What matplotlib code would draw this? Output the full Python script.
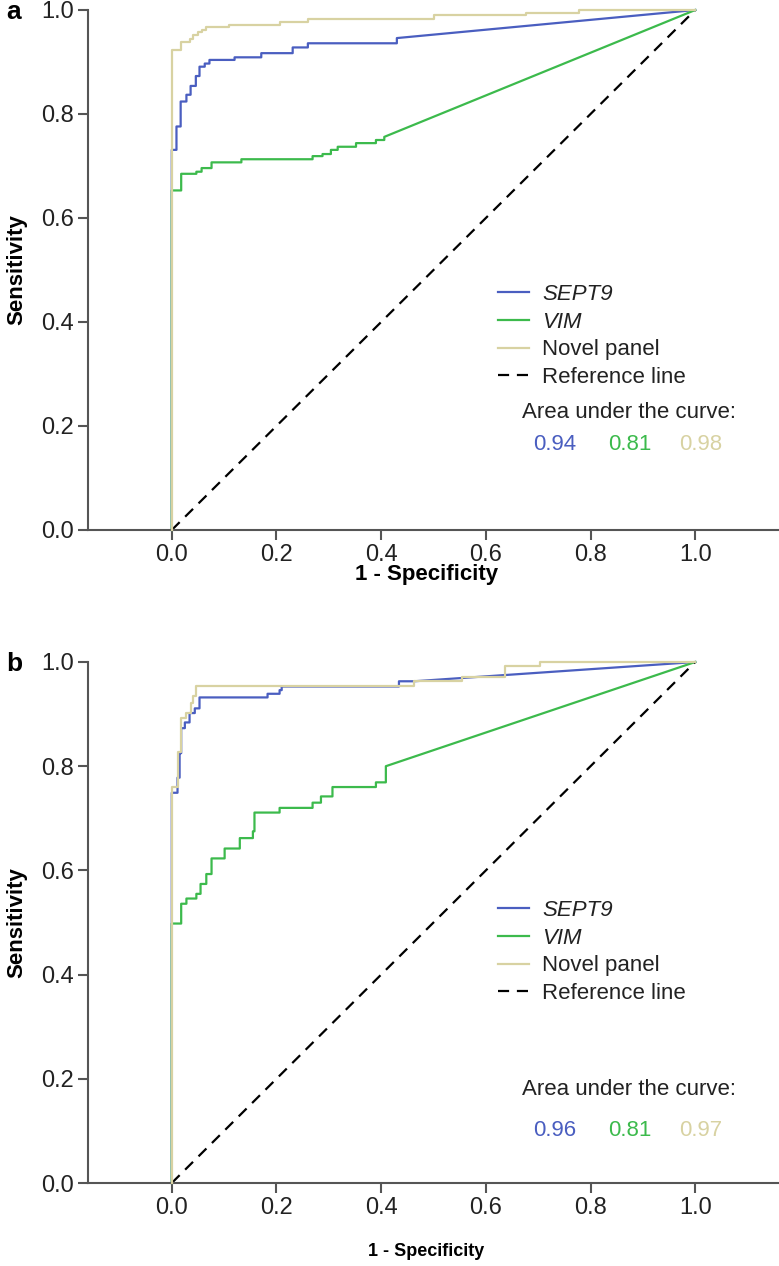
import matplotlib.pyplot as plt

plt.rcParams['font.family'] = ['Liberation Sans', 'DejaVu Sans']

# ROC steps: at each fpr value the sensitivity jumps up to tpr
# panel a
sept9_a_fpr = [0, 0.009, 0.017, 0.028, 0.036, 0.046, 0.053, 0.063, 0.072, 0.12, 0.171, 0.231, 0.26, 0.43]
sept9_a_tpr = [0.731, 0.776, 0.824, 0.837, 0.854, 0.873, 0.891, 0.897, 0.904, 0.909, 0.917, 0.928, 0.936, 0.946]
vim_a_fpr = [0, 0.018, 0.047, 0.057, 0.076, 0.133, 0.269, 0.288, 0.304, 0.317, 0.352, 0.39, 0.406]
vim_a_tpr = [0.653, 0.685, 0.689, 0.696, 0.707, 0.713, 0.719, 0.723, 0.731, 0.737, 0.744, 0.75, 0.756]
novel_a_fpr = [0, 0.018, 0.034, 0.041, 0.05, 0.058, 0.066, 0.11, 0.206, 0.26, 0.50, 0.676, 0.777]
novel_a_tpr = [0.923, 0.939, 0.944, 0.952, 0.957, 0.962, 0.967, 0.971, 0.976, 0.983, 0.99, 0.995, 1.0]

# panel b
sept9_b_fpr = [0, 0.011, 0.015, 0.018, 0.025, 0.034, 0.044, 0.053, 0.183, 0.206, 0.21, 0.434, 0.463]
sept9_b_tpr = [0.749, 0.778, 0.825, 0.873, 0.884, 0.902, 0.911, 0.932, 0.939, 0.946, 0.953, 0.963, 0.963]
vim_b_fpr = [0, 0.018, 0.028, 0.047, 0.055, 0.066, 0.076, 0.101, 0.13, 0.155, 0.158, 0.206, 0.269, 0.285,
             0.307, 0.39, 0.409]
vim_b_tpr = [0.498, 0.536, 0.546, 0.555, 0.574, 0.593, 0.623, 0.642, 0.662, 0.675, 0.711, 0.72, 0.730, 0.742,
             0.760, 0.769, 0.80]
novel_b_fpr = [0, 0.011, 0.018, 0.028, 0.037, 0.04, 0.047, 0.463, 0.555, 0.637, 0.704]
novel_b_tpr = [0.761, 0.828, 0.892, 0.903, 0.921, 0.934, 0.953, 0.963, 0.972, 0.992, 1.0]

auc_a = ['0.94', '0.81', '0.98']
auc_b = ['0.96', '0.81', '0.97']

c_sept9 = '#4a5ec0'
c_vim = '#3cba4c'
c_novel = '#d8d2a2'
spine_c = '#555555'
text_c = '#222222'


def roc_corners(fpr, tpr):
    # build the staircase, then a straight run to (1, 1)
    xs, ys = [0], [0]
    for x, y in zip(fpr, tpr):
        xs += [x, x]
        ys += [ys[-1], y]
    xs.append(1.0)
    ys.append(1.0)
    return xs, ys


def draw_panel(ax, curves, auc, leg_y, auc_y, val_y, xlab_y, xlab_size):
    for (fpr, tpr), col, lab in zip(curves, [c_sept9, c_vim, c_novel], ['SEPT9', 'VIM', 'Novel panel']):
        xs, ys = roc_corners(fpr, tpr)
        ax.plot(xs, ys, color=col, lw=1.6, label=lab, clip_on=False, zorder=3 if col == c_novel else 2)
    ax.plot([0, 1], [0, 1], color='black', lw=1.6, dashes=(5, 3.5), label='Reference line', clip_on=False)

    ax.set_xlim(-0.16, 1.16)
    ax.set_ylim(0, 1)
    ticks = [0, 0.2, 0.4, 0.6, 0.8, 1.0]
    ax.set_xticks(ticks)
    ax.set_yticks(ticks)
    ax.set_xticklabels(['%.1f' % t for t in ticks])
    ax.set_yticklabels(['%.1f' % t for t in ticks])
    for s in ['top', 'right']:
        ax.spines[s].set_visible(False)
    for s in ['left', 'bottom']:
        ax.spines[s].set_color(spine_c)
        ax.spines[s].set_linewidth(1.5)
    ax.tick_params(length=7, width=1.5, color=spine_c, labelsize=17, labelcolor=text_c, pad=3)

    ax.set_ylabel('Sensitivity', fontsize=16, fontweight='bold')
    ax.yaxis.set_label_coords(-0.088, 0.5)
    ax.set_xlabel('1 - Specificity', fontsize=xlab_size, fontweight='bold')
    ax.xaxis.set_label_coords(0.49, xlab_y)

    leg = ax.legend(loc='upper left', bbox_to_anchor=(0.58, leg_y), frameon=False, fontsize=16,
                    handlelength=1.4, handletextpad=0.6, labelspacing=0.3, borderaxespad=0)
    for t in leg.get_texts()[:2]:
        t.set_fontstyle('italic')
    for t in leg.get_texts():
        t.set_color(text_c)

    ax.text(0.628, auc_y, 'Area under the curve:', transform=ax.transAxes, fontsize=16,
            color=text_c, va='center', ha='left')
    for val, col, xp in zip(auc, [c_sept9, c_vim, c_novel], [0.676, 0.784, 0.886]):
        ax.text(xp, val_y, val, transform=ax.transAxes, fontsize=16, color=col, va='center', ha='center')


fig = plt.figure(figsize=(7.79, 12.66), dpi=100)
ax_a = fig.add_axes([88 / 779, 1 - 530 / 1266, 1 - 88 / 779, 520 / 1266])
ax_b = fig.add_axes([88 / 779, 1 - 1183 / 1266, 1 - 88 / 779, 521 / 1266])

draw_panel(ax_a, [(sept9_a_fpr, sept9_a_tpr), (vim_a_fpr, vim_a_tpr), (novel_a_fpr, novel_a_tpr)],
           auc_a, 0.49, 0.225, 0.165, -0.066, 16)
draw_panel(ax_b, [(sept9_b_fpr, sept9_b_tpr), (vim_b_fpr, vim_b_tpr), (novel_b_fpr, novel_b_tpr)],
           auc_b, 0.56, 0.18, 0.10, -0.116, 13)

fig.text(6 / 779, 1 - 12 / 1266, 'a', fontsize=19, fontweight='bold', va='center', ha='left')
fig.text(6 / 779, 1 - 664 / 1266, 'b', fontsize=19, fontweight='bold', va='center', ha='left')

fig.savefig('out.png', dpi=100)
